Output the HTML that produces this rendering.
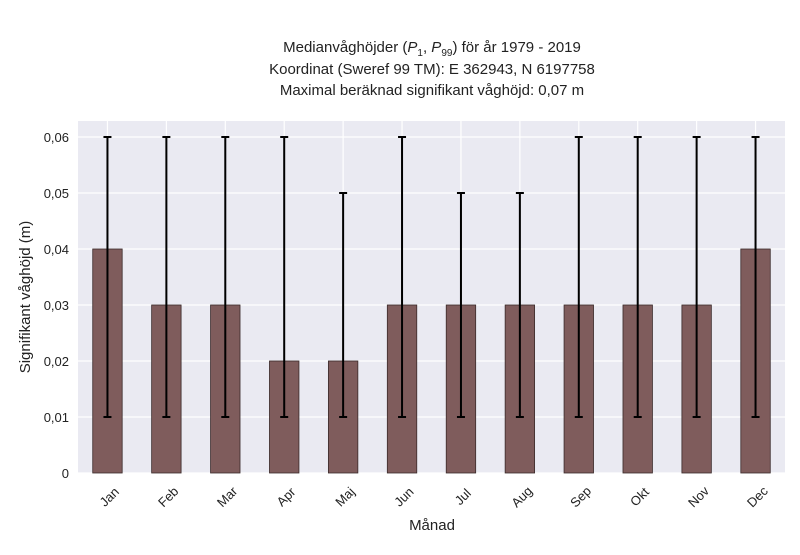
<!DOCTYPE html>
<html><head><meta charset="utf-8"><style>
body{margin:0;background:#fff;font-family:"Liberation Sans",sans-serif;}
svg text{font-family:"Liberation Sans",sans-serif;fill:#222;}
</style></head><body>
<svg id="chart" width="800" height="550">
<text x="432" y="52" text-anchor="middle" font-size="15">Medianvåghöjder (<tspan font-style="italic">P</tspan><tspan font-size="10" dy="4">1</tspan><tspan dy="-4">, </tspan><tspan font-style="italic">P</tspan><tspan font-size="10" dy="4">99</tspan><tspan dy="-4">) för år 1979 - 2019</tspan></text>
<text x="432" y="74" text-anchor="middle" font-size="15">Koordinat (Sweref 99 TM): E 362943, N 6197758</text>
<text x="432" y="95" text-anchor="middle" font-size="15">Maximal beräknad signifikant våghöjd: 0,07 m</text>
<rect x="78" y="121" width="707" height="352" fill="#eaeaf2"/>
<g id="grid"></g><g id="bars"></g><g id="axes"></g>
<text x="432" y="530" text-anchor="middle" font-size="15">Månad</text>
<text transform="translate(30,297) rotate(-90)" text-anchor="middle" font-size="15">Signifikant våghöjd (m)</text>
</svg>
<script>
const months=["Jan","Feb","Mar","Apr","Maj","Jun","Jul","Aug","Sep","Okt","Nov","Dec"];
const medians=[0.04,0.03,0.03,0.02,0.02,0.03,0.03,0.03,0.03,0.03,0.03,0.04];
const p1=[0.01,0.01,0.01,0.01,0.01,0.01,0.01,0.01,0.01,0.01,0.01,0.01];
const p99=[0.06,0.06,0.06,0.06,0.05,0.06,0.05,0.05,0.06,0.06,0.06,0.06];
const yTicks=[0,0.01,0.02,0.03,0.04,0.05,0.06];
const yLabels=["0","0,01","0,02","0,03","0,04","0,05","0,06"];
const NS="http://www.w3.org/2000/svg";
const L=78,R=785,B=473;
const step=(R-L)/months.length;
const x=i=>L+step*(i+0.5);
const y=v=>B-v*5600;
function mk(t,a,p){const e=document.createElementNS(NS,t);for(const k in a)e.setAttribute(k,a[k]);p.appendChild(e);return e;}
const grid=document.getElementById('grid'),bars=document.getElementById('bars'),axes=document.getElementById('axes');
yTicks.forEach((v,i)=>{
 const g=mk('line',{x1:L,x2:R,y1:y(v),y2:y(v),stroke:'#fff','stroke-width':1.2},grid);
 
 
 const t=mk('text',{x:L-9,y:y(v)+5,'text-anchor':'end','font-size':13},axes);
 t.textContent=yLabels[i];
 
 
});
months.forEach((m,i)=>{
 const g=mk('line',{x1:x(i),x2:x(i),y1:121,y2:B,stroke:'#fff','stroke-width':1.2},grid);
 
 
 const bw=step*0.5;
 const r=mk('rect',{x:x(i)-bw/2,y:y(medians[i]),width:bw,height:B-y(medians[i]),fill:'#7f5c5c',stroke:'#3a2a2a','stroke-width':0.8},bars);
 
 
 const e=mk('path',{d:`M${x(i)},${y(p1[i])}V${y(p99[i])}M${x(i)-4},${y(p1[i])}h8M${x(i)-4},${y(p99[i])}h8`,stroke:'#000','stroke-width':2,fill:'none'},bars);
 
 
 const t=mk('text',{transform:`translate(${x(i)+5},${B+27}) rotate(-45)`,'text-anchor':'middle','font-size':13},axes);
 t.textContent=m;
 
 
});
</script>
</body></html>
